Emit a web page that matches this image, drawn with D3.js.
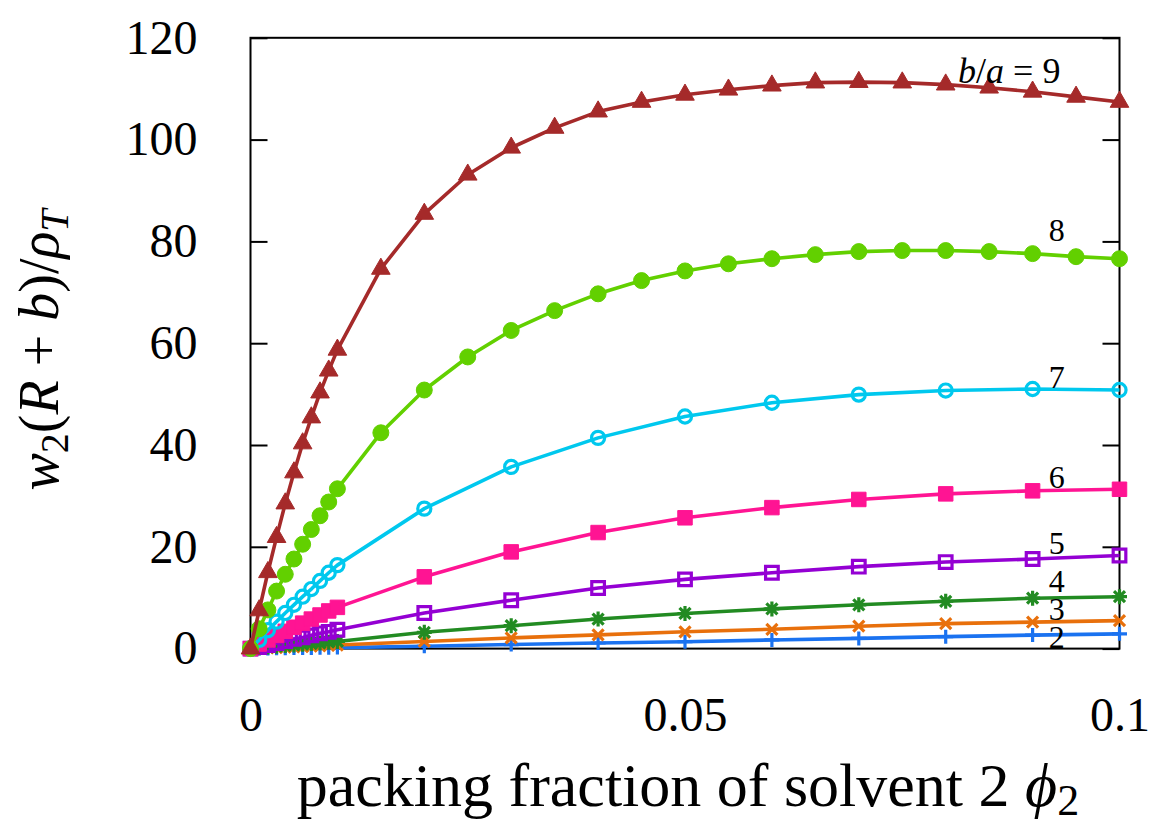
<!DOCTYPE html>
<html>
<head>
<meta charset="utf-8">
<script src="https://cdn.jsdelivr.net/npm/d3@7"></script>
<style>
body { margin: 0; background: #fff; }
text { font-family: "Liberation Serif", "Times New Roman", serif; fill: #000; }
</style>
</head>
<body>
<svg id="chart"></svg>
<script>
// packing fraction grids
const phiFine = [0, 0.001, 0.002, 0.003, 0.004, 0.005, 0.006, 0.007, 0.008, 0.009, 0.01];
const phiHalf = [0.015, 0.02, 0.025, 0.03, 0.035, 0.04, 0.045, 0.05, 0.055, 0.06, 0.065, 0.07, 0.075, 0.08, 0.085, 0.09, 0.095, 0.1];
const phiStep = [0.02, 0.03, 0.04, 0.05, 0.06, 0.07, 0.08, 0.09, 0.1];

// w2(R+b)/rhoT, one list per b/a
const w9 = [0, 7.5, 15.0, 21.9, 28.5, 34.6, 40.3, 45.4, 50.3, 54.6, 58.7,
  74.6, 85.4, 93.1, 98.4, 102.3, 105.5, 107.4, 108.8, 109.8, 110.6, 111.2, 111.3, 111.2, 110.8, 110.2, 109.4, 108.4, 107.4];
const w8 = [0, 3.9, 7.6, 11.3, 14.6, 17.6, 20.5, 23.4, 26.1, 28.8, 31.4,
  42.4, 50.8, 57.3, 62.5, 66.4, 69.7, 72.3, 74.2, 75.6, 76.6, 77.4, 78.0, 78.2, 78.2, 78.0, 77.6, 77.0, 76.6];
const w7 = [0, 1.7, 3.6, 5.3, 7.0, 8.6, 10.2, 11.7, 13.3, 14.9, 16.4,
  27.5, 35.7, 41.4, 45.6, 48.3, 49.9, 50.7, 51.0, 50.8];
const w6 = [0, 0.9, 1.7, 2.6, 3.4, 4.2, 5.0, 5.8, 6.6, 7.4, 8.1,
  14.1, 19.0, 22.8, 25.7, 27.7, 29.3, 30.4, 31.0, 31.3];
const w5 = [0, 0.3, 0.7, 1.1, 1.5, 1.9, 2.2, 2.6, 3.0, 3.3, 3.7,
  7.0, 9.5, 11.9, 13.6, 14.9, 16.1, 17.0, 17.6, 18.3];
const w4 = [0, 0.15, 0.3, 0.45, 0.6, 0.7, 0.85, 1.0, 1.1, 1.25, 1.4,
  3.2, 4.5, 5.8, 6.9, 7.8, 8.6, 9.3, 9.9, 10.2];
const w3 = [0, 0.05, 0.15, 0.2, 0.3, 0.35, 0.4, 0.5, 0.55, 0.65, 0.7,
  1.4, 2.1, 2.7, 3.3, 3.8, 4.4, 4.9, 5.2, 5.5];
const w2 = [0, 0.02, 0.04, 0.06, 0.08, 0.1, 0.12, 0.14, 0.16, 0.18, 0.2,
  0.45, 0.8, 1.1, 1.35, 1.7, 2.0, 2.35, 2.65, 2.9];

const yTicks = [0, 20, 40, 60, 80, 100, 120];
const xTicks = [0, 0.05, 0.1];
const curveNames = ['2', '3', '4', '5', '6', '7', '8'];
const curveLabelY = [2.3, 7.8, 13.4, 20.7, 33.8, 53.4, 82.2];

const W = 1158, H = 830;
const svg = d3.select('#chart').attr('width', W).attr('height', H);

const x = d3.scaleLinear().domain([0, 0.1]).range([250.5, 1119.5]);
const y = d3.scaleLinear().domain([0, 120]).range([648.6, 37.8]);

const phiA = phiFine.concat(phiHalf);
const phiB = phiFine.concat(phiStep);

const series = [
	{ phi: phiB, w: w2, color: '#1a72f0', marker: 'plus' },
	{ phi: phiB, w: w3, color: '#e8700c', marker: 'times' },
	{ phi: phiB, w: w4, color: '#228b22', marker: 'star' },
	{ phi: phiB, w: w5, color: '#9400d3', marker: 'osquare' },
	{ phi: phiB, w: w6, color: '#ff1493', marker: 'square' },
	{ phi: phiB, w: w7, color: '#00c8ee', marker: 'ocircle' },
	{ phi: phiA, w: w8, color: '#62d000', marker: 'circle' },
	{ phi: phiA, w: w9, color: '#a52a2a', marker: 'triangle' }
];

// axes: y ticks inside on both sides, no x ticks
const yAxisL = svg.append('g')
	.attr('transform', `translate(${x(0)},0)`)
	.call(d3.axisLeft(y).tickValues(yTicks).tickSizeInner(-17).tickSizeOuter(0).tickPadding(53));
const yAxisR = svg.append('g')
	.attr('transform', `translate(${x(0.1)},0)`)
	.call(d3.axisRight(y).tickValues(yTicks).tickSizeInner(-17).tickSizeOuter(0).tickFormat(''));
const xAxis = svg.append('g')
	.attr('transform', `translate(0,${y(0)})`)
	.call(d3.axisBottom(x).tickValues(xTicks).tickSize(0).tickPadding(48).tickFormat(d => String(d)));

[yAxisL, yAxisR, xAxis].forEach(g => {
	g.select('.domain').remove();
	g.selectAll('line').attr('stroke', '#000').attr('stroke-width', 2);
	g.selectAll('text').attr('font-size', 48).attr('font-family', '"Liberation Serif", serif').attr('fill', '#000');
});

svg.append('rect')
	.attr('x', x(0)).attr('y', y(120))
	.attr('width', x(0.1) - x(0)).attr('height', y(0) - y(120))
	.attr('fill', 'none').attr('stroke', '#000').attr('stroke-width', 2);

function markerPath(kind) {
	const s = d3.symbol();
	switch (kind) {
		case 'triangle': return s.type(d3.symbolTriangle).size(150)();
		case 'circle': return s.type(d3.symbolCircle).size(200)();
		case 'ocircle': return s.type(d3.symbolCircle).size(135)();
		case 'square': return s.type(d3.symbolSquare).size(210)();
		case 'osquare': return s.type(d3.symbolSquare).size(160)();
		case 'plus': return 'M-7.5,0L7.5,0M0,-7L0,7';
		case 'times': return 'M-5.5,-5.5L5.5,5.5M-5.5,5.5L5.5,-5.5';
		case 'star': return 'M-7.5,0L7.5,0M0,-7.5L0,7.5M-5.5,-5.5L5.5,5.5M-5.5,5.5L5.5,-5.5';
	}
}
const filled = { triangle: true, circle: true, square: true };

const line = d3.line().x(d => x(d[0])).y(d => y(d[1]));

series.forEach(s => {
	const pts = s.phi.map((p, i) => [p, s.w[i]]);
	const g = svg.append('g');
	g.append('path')
		.attr('d', line(pts))
		.attr('fill', 'none')
		.attr('stroke', s.color)
		.attr('stroke-width', 3.6)
		.attr('stroke-linejoin', 'round');
	const path = markerPath(s.marker);
	g.selectAll('path.pt')
		.data(pts)
		.enter().append('path')
		.attr('class', 'pt')
		.attr('d', path)
		.attr('transform', d => `translate(${x(d[0])},${y(d[1])})`)
		.attr('fill', filled[s.marker] ? s.color : 'none')
		.attr('stroke', s.color)
		.attr('stroke-width', filled[s.marker] ? 1 : 3.2);
});

// curve labels
svg.append('g').selectAll('text')
	.data(curveNames)
	.enter().append('text')
	.attr('x', x(0.0937))
	.attr('y', (d, i) => y(curveLabelY[i]))
	.attr('dy', '0.35em')
	.attr('text-anchor', 'end')
	.attr('font-size', 32)
	.text(d => d);

const ba = svg.append('text')
	.attr('x', x(0.0932)).attr('y', y(113.6)).attr('dy', '0.35em')
	.attr('text-anchor', 'end').attr('font-size', 36);
ba.append('tspan').attr('font-style', 'italic').text('b');
ba.append('tspan').text('/');
ba.append('tspan').attr('font-style', 'italic').text('a');
ba.append('tspan').text(' = 9');

// axis titles
const xl = svg.append('text')
	.attr('x', 688).attr('y', 806)
	.attr('text-anchor', 'middle').attr('font-size', 62);
xl.append('tspan').text('packing fraction of solvent 2 ');
xl.append('tspan').attr('font-style', 'italic').text('ϕ');
xl.append('tspan').attr('font-size', 44).attr('dy', 9).text('2');

const yl = svg.append('text')
	.attr('transform', 'translate(58,350) rotate(-90)')
	.attr('text-anchor', 'middle').attr('font-size', 56);
yl.append('tspan').attr('font-style', 'italic').text('w');
yl.append('tspan').attr('font-size', 40).attr('dy', 10).text('2');
yl.append('tspan').attr('dy', -10).text('(');
yl.append('tspan').attr('font-style', 'italic').text('R');
yl.append('tspan').text(' + ');
yl.append('tspan').attr('font-style', 'italic').text('b');
yl.append('tspan').text(')/');
yl.append('tspan').attr('font-style', 'italic').text('ρ');
yl.append('tspan').attr('font-size', 40).attr('font-style', 'italic').attr('dy', 10).text('T');
</script>
</body>
</html>
